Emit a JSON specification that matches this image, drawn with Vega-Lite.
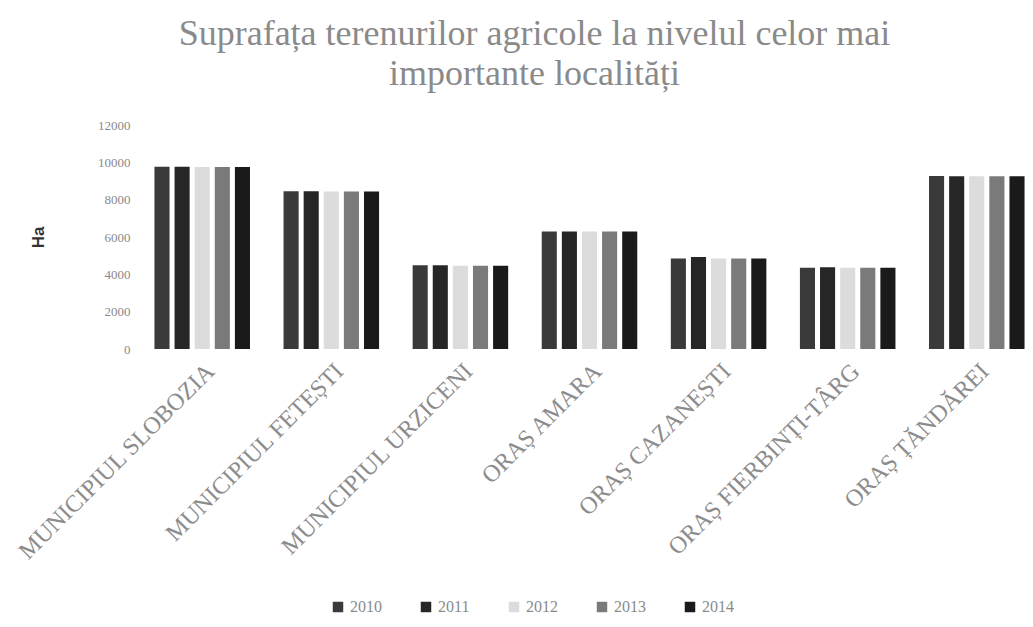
{
  "$schema": "https://vega.github.io/schema/vega-lite/v6.json",
  "width": 883,
  "height": 224,
  "autosize": {"type": "none"},
  "padding": {"left": 148, "top": 125, "right": 2, "bottom": 278},
  "background": "white",
  "title": {
    "text": ["Suprafața terenurilor agricole la nivelul celor mai", "importante localități"],
    "font": "Liberation Serif",
    "fontSize": 36,
    "fontWeight": "normal",
    "color": "#8a8a8a",
    "lineHeight": 40,
    "anchor": "middle",
    "dx": -55,
    "offset": 26
  },
  "data": {
    "values": [
      {"loc": "MUNICIPIUL SLOBOZIA", "an": "2010", "ha": 9760},
      {"loc": "MUNICIPIUL SLOBOZIA", "an": "2011", "ha": 9760},
      {"loc": "MUNICIPIUL SLOBOZIA", "an": "2012", "ha": 9750},
      {"loc": "MUNICIPIUL SLOBOZIA", "an": "2013", "ha": 9750},
      {"loc": "MUNICIPIUL SLOBOZIA", "an": "2014", "ha": 9750},
      {"loc": "MUNICIPIUL FETEȘTI", "an": "2010", "ha": 8450},
      {"loc": "MUNICIPIUL FETEȘTI", "an": "2011", "ha": 8450},
      {"loc": "MUNICIPIUL FETEȘTI", "an": "2012", "ha": 8440},
      {"loc": "MUNICIPIUL FETEȘTI", "an": "2013", "ha": 8440},
      {"loc": "MUNICIPIUL FETEȘTI", "an": "2014", "ha": 8440},
      {"loc": "MUNICIPIUL URZICENI", "an": "2010", "ha": 4480},
      {"loc": "MUNICIPIUL URZICENI", "an": "2011", "ha": 4480},
      {"loc": "MUNICIPIUL URZICENI", "an": "2012", "ha": 4460},
      {"loc": "MUNICIPIUL URZICENI", "an": "2013", "ha": 4460},
      {"loc": "MUNICIPIUL URZICENI", "an": "2014", "ha": 4460},
      {"loc": "ORAȘ AMARA", "an": "2010", "ha": 6300},
      {"loc": "ORAȘ AMARA", "an": "2011", "ha": 6300},
      {"loc": "ORAȘ AMARA", "an": "2012", "ha": 6290},
      {"loc": "ORAȘ AMARA", "an": "2013", "ha": 6290},
      {"loc": "ORAȘ AMARA", "an": "2014", "ha": 6290},
      {"loc": "ORAȘ CAZANEȘTI", "an": "2010", "ha": 4850},
      {"loc": "ORAȘ CAZANEȘTI", "an": "2011", "ha": 4930},
      {"loc": "ORAȘ CAZANEȘTI", "an": "2012", "ha": 4850},
      {"loc": "ORAȘ CAZANEȘTI", "an": "2013", "ha": 4850},
      {"loc": "ORAȘ CAZANEȘTI", "an": "2014", "ha": 4850},
      {"loc": "ORAȘ FIERBINȚI-TÂRG", "an": "2010", "ha": 4350},
      {"loc": "ORAȘ FIERBINȚI-TÂRG", "an": "2011", "ha": 4380},
      {"loc": "ORAȘ FIERBINȚI-TÂRG", "an": "2012", "ha": 4350},
      {"loc": "ORAȘ FIERBINȚI-TÂRG", "an": "2013", "ha": 4350},
      {"loc": "ORAȘ FIERBINȚI-TÂRG", "an": "2014", "ha": 4350},
      {"loc": "ORAȘ ȚĂNDĂREI", "an": "2010", "ha": 9270},
      {"loc": "ORAȘ ȚĂNDĂREI", "an": "2011", "ha": 9260},
      {"loc": "ORAȘ ȚĂNDĂREI", "an": "2012", "ha": 9250},
      {"loc": "ORAȘ ȚĂNDĂREI", "an": "2013", "ha": 9250},
      {"loc": "ORAȘ ȚĂNDĂREI", "an": "2014", "ha": 9250}
    ]
  },
  "mark": {"type": "bar"},
  "encoding": {
    "x": {
      "field": "loc",
      "type": "nominal",
      "sort": null,
      "scale": {"paddingInner": 0.26, "paddingOuter": 0.05},
      "axis": {
        "title": null,
        "labelAngle": -45,
        "labelFont": "Liberation Serif",
        "labelFontSize": 24,
        "labelColor": "#8c8c8c",
        "labelPadding": 10,
        "ticks": false,
        "domain": false,
        "labelLimit": 400
      }
    },
    "xOffset": {
      "field": "an",
      "type": "nominal",
      "scale": {"paddingInner": 0.25, "paddingOuter": 0}
    },
    "y": {
      "field": "ha",
      "type": "quantitative",
      "scale": {"domain": [0, 12000], "nice": false},
      "axis": {
        "title": "Ha",
        "titleFont": "Liberation Sans",
        "titleFontSize": 17,
        "titleFontWeight": "bold",
        "titleColor": "#333333",
        "titlePadding": 50,
        "values": [0, 2000, 4000, 6000, 8000, 10000, 12000],
        "format": "d",
        "labelFont": "Liberation Serif",
        "labelFontSize": 13,
        "labelColor": "#8a8a8a",
        "labelPadding": 18,
        "ticks": false,
        "domain": false,
        "grid": false
      }
    },
    "color": {
      "field": "an",
      "type": "nominal",
      "scale": {
        "domain": ["2010", "2011", "2012", "2013", "2014"],
        "range": ["#3a3a3a", "#262626", "#dcdcdc", "#7a7a7a", "#1a1a1a"]
      },
      "legend": {
        "title": null,
        "orient": "none",
        "direction": "horizontal",
        "legendX": 182,
        "legendY": 474,
        "symbolType": "square",
        "symbolSize": 110,
        "labelFont": "Liberation Serif",
        "labelFontSize": 16,
        "labelColor": "#8a8a8a",
        "columnPadding": 36,
        "symbolStrokeWidth": 0
      }
    }
  },
  "config": {"view": {"stroke": null}}
}
